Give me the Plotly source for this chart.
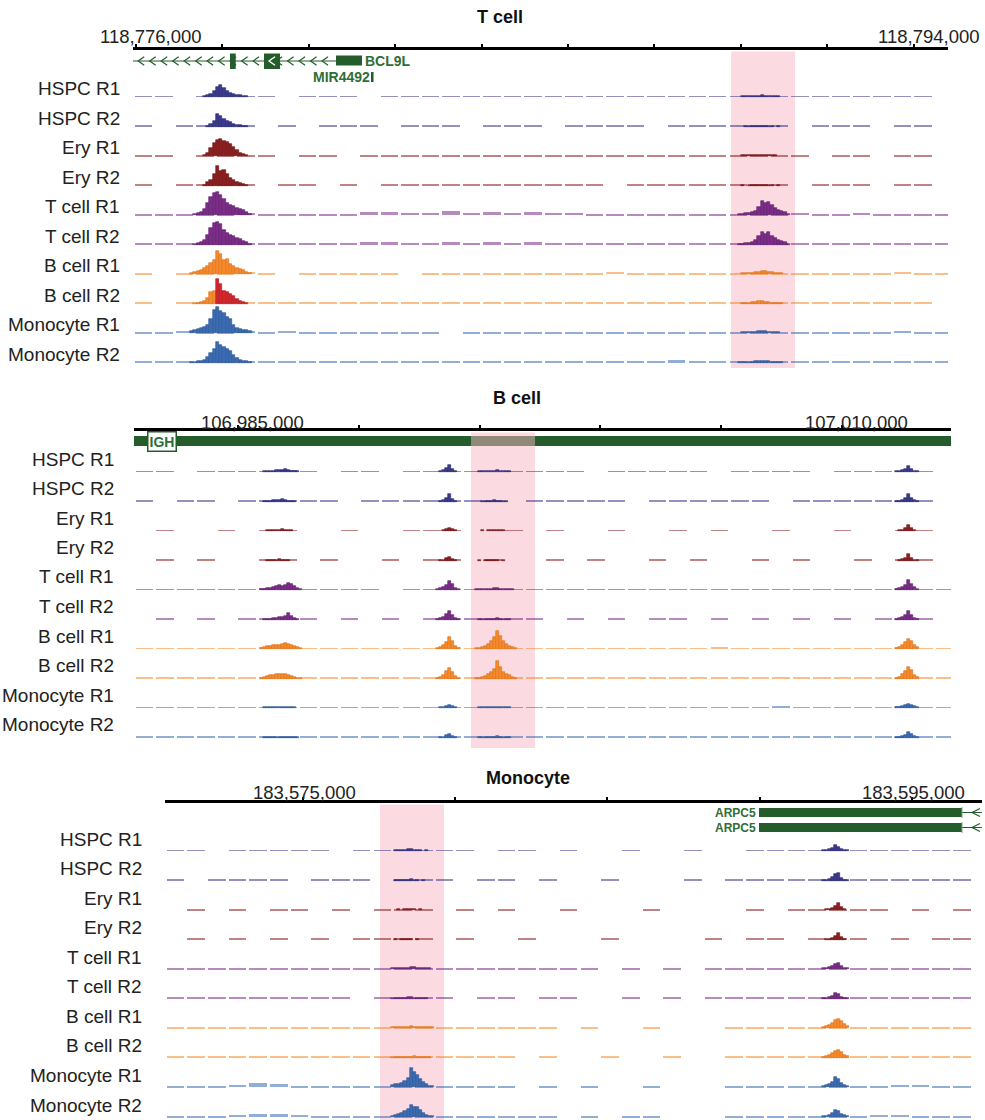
import plotly.graph_objects as go

FONT = "Liberation Sans, Arial, Helvetica, sans-serif"
FIG_W, FIG_H = 985, 1120

# ---------------------------------------------------------------- samples
SAMPLES = ["HSPC R1", "HSPC R2", "Ery R1", "Ery R2", "T cell R1", "T cell R2",
           "B cell R1", "B cell R2", "Monocyte R1", "Monocyte R2"]
FILL = ["#3b3a8c"] * 2 + ["#8c1f20"] * 2 + ["#7d2c8a"] * 2 + ["#f68a2d"] * 2 + ["#3b6db5"] * 2
EDGE = ["#27266e"] * 2 + ["#6a1315"] * 2 + ["#5b1b68"] * 2 + ["#dc7016"] * 2 + ["#285391"] * 2
ALT_FILL, ALT_EDGE = "#d5262d", "#ad1a20"
GENE_GREEN, GENE_TEXT = "#245d2b", "#2f6e36"
HIGHLIGHT = "rgb(249,181,196)"

# ======================================================= T cell locus (BCL9L)
TCELL_VIEW = (118775930, 118794798)
TCELL_TICKS = list(range(118776000, 118794001, 2000))
TCELL_LABELED = [118776000, 118794000]
TCELL_HIGHLIGHT = (118789775, 118791255)

# coverage in 475 bp bins across the view
TCELL_BG_START, TCELL_BG_BIN = 118775930, 475
TCELL_BG = [
    [1,1,0,1,1,1,1,0,1,1,1,0,1,1,1,1,1,1,1,1,1,1,1,1,1,1,1,1,1,1,1,1,1,1,1,1,1,1,1,0],
    [1,0,1,1,1,1,0,1,0,1,1,1,0,1,1,1,0,1,1,1,0,1,1,1,1,0,1,1,1,1,1,1,0,1,1,1,0,1,1,0],
    [1,1,0,1,1,1,1,0,1,1,0,1,1,1,1,1,1,1,1,1,1,1,1,1,1,1,1,1,1,1,1,1,1,0,1,1,0,1,1,0],
    [1,0,1,1,1,1,0,1,1,0,1,0,1,1,1,1,1,1,2,1,1,1,1,0,1,1,1,1,1,1,1,1,0,1,1,1,0,1,1,0],
    [1,1,1,1,1,2,1,1,1,1,1,3,3,2,2,4,2,3,2,3,2,2,1,1,1,1,1,1,1,1,1,1,2,1,1,2,1,1,1,1],
    [1,1,1,1,1,2,1,1,1,1,1,3,3,2,2,3,2,3,2,3,2,1,1,1,1,1,1,1,1,1,1,1,2,1,1,1,1,1,1,1],
    [1,0,1,1,1,2,1,0,1,1,1,1,1,0,1,1,1,1,1,1,1,1,1,2,1,1,1,1,1,1,1,1,1,1,1,1,1,2,1,1],
    [1,0,1,1,1,2,1,1,1,1,1,1,1,1,1,1,1,1,1,1,1,1,1,2,1,1,1,1,1,1,1,1,1,1,1,1,1,2,1,0],
    [1,1,2,1,1,2,1,2,1,1,1,1,1,1,1,0,1,1,1,1,1,1,1,1,1,1,1,1,1,1,1,1,1,1,1,1,1,2,1,1],
    [1,1,1,1,1,2,2,1,1,1,1,1,2,1,1,1,1,2,1,1,1,1,1,1,1,2,3,1,1,1,1,1,1,1,1,1,1,1,1,1],
]
# promoter peak, 75 bp bins
TCELL_PROM_START, TCELL_PROM_BIN = 118777250, 75
TCELL_PROM = [
    [0,0,0,0,1,2,3,6,10,12,9,6,4,3,2,2,1,1,0],
    [0,0,0,0,0,1,3,6,13,11,8,6,5,3,2,2,1,1,0],
    [0,0,0,0,1,3,8,13,16,17,15,14,12,9,6,3,2,1,0],
    [0,0,0,0,1,4,6,12,20,15,16,12,8,6,4,3,2,1,0],
    [0,1,2,3,6,12,18,22,23,20,16,12,10,9,7,6,5,3,1],
    [0,1,2,3,5,10,17,22,23,21,15,12,10,9,7,6,4,3,1],
    [1,2,3,4,6,8,11,14,23,20,14,15,10,8,6,5,4,2,1],
    [0,1,1,2,3,6,12,13,25,20,13,12,10,8,5,3,2,1,0],
    [2,3,4,5,6,8,14,23,26,22,20,16,14,8,5,4,3,3,2],
    [1,1,2,2,3,6,10,14,21,18,16,14,12,8,5,3,2,2,1],
]
TCELL_B_R2_ALT_FROM = 118777850
# T cell specific element, 75 bp bins
TCELL_ENH_START, TCELL_ENH_BIN = 118789860, 75
TCELL_ENH = [
    [0,0,1,1,1,1,1,1,2,1,1,1,1,1,0,0,0],
    [0,0,0,1,1,1,1,1,1,1,1,1,0,1,0,0,0],
    [0,0,1,1,1,1,1,1,1,1,1,1,1,0,0,0,0],
    [0,0,1,0,1,1,1,1,1,1,1,1,0,1,0,0,0],
    [0,1,1,2,2,3,4,8,14,12,13,10,7,5,4,3,1],
    [0,1,1,2,2,3,5,9,13,11,13,9,7,5,4,3,1],
    [0,0,1,1,1,1,2,2,3,3,2,2,1,1,1,0,0],
    [0,0,1,1,1,2,2,3,3,2,2,1,1,1,1,0,0],
    [0,0,1,1,1,1,1,2,2,2,1,1,1,1,0,0,0],
    [0,1,1,1,1,1,2,2,2,2,2,1,1,1,1,0,0],
]
BCL9L_INTRON = (118775000, 118780630)
BCL9L_EXONS = [(118778176, 118778308), (118778963, 118779334)]
BCL9L_END_BLOCK = (118780630, 118781232)
MIR4492 = (118781440, 118781498)

# ======================================================= B cell locus (IGH)
BCELL_VIEW = (106980695, 107014511)
BCELL_TICKS = list(range(106985000, 107010001, 5000))
BCELL_LABELED = [106985000, 107010000]
BCELL_HIGHLIGHT = (106994644, 106997293)

BCELL_BG_START, BCELL_BG_BIN = 106980695, 850
BCELL_BG = [
    [1,1,0,1,1,1,1,2,1,0,1,1,0,1,1,1,1,0,1,1,1,1,0,1,1,1,1,1,0,1,1,1,1,0,1,1,1,1,1,0],
    [1,0,1,1,0,1,1,2,1,1,0,1,1,1,1,1,1,1,0,1,1,1,1,1,0,1,1,1,1,1,1,0,1,1,1,1,1,1,1,0],
    [0,1,0,0,1,0,1,1,0,0,1,0,0,1,1,1,0,0,1,0,1,0,0,1,0,0,1,0,1,0,0,1,0,0,1,0,0,1,1,0],
    [0,1,0,1,0,0,1,1,0,1,0,0,1,0,1,1,0,1,0,0,1,0,1,0,0,1,0,1,0,0,1,0,1,0,0,1,0,1,1,0],
    [1,1,1,1,1,1,2,2,1,1,1,1,0,1,1,1,1,1,1,1,1,1,1,1,1,1,1,1,1,1,1,1,1,1,1,1,1,2,1,1],
    [0,1,0,1,0,1,1,2,1,0,1,0,1,0,1,1,1,1,1,1,0,1,0,1,0,1,1,0,1,0,1,0,1,0,1,0,1,1,1,0],
    [1,1,1,1,1,1,2,2,1,1,1,1,1,1,1,2,1,1,1,1,1,1,1,1,1,1,1,1,2,1,1,1,1,1,1,1,1,2,1,1],
    [1,1,1,1,1,1,2,2,1,1,1,1,1,1,1,2,1,1,1,1,1,1,1,1,1,1,1,1,1,1,1,1,1,1,1,1,1,2,1,1],
    [1,1,1,1,1,1,1,1,1,1,1,1,1,1,1,1,1,1,1,1,1,1,1,1,1,1,1,1,1,1,1,2,1,1,1,1,1,2,1,1],
    [1,1,1,1,1,1,1,1,1,1,1,1,1,1,1,1,1,1,1,1,1,1,1,1,1,1,1,1,1,1,1,1,1,1,1,1,1,2,1,1],
]
BCELL_PEAK1_START, BCELL_PEAK1_BIN = 106985900, 125
BCELL_PEAK1 = [
    [0,1,1,1,1,2,2,2,3,2,1,1,1,0],
    [0,1,1,1,2,2,2,3,2,1,1,1,0,0],
    [0,0,1,1,1,1,1,2,1,1,1,0,0,0],
    [0,0,1,1,1,1,2,1,1,1,0,0,0,0],
    [1,1,2,2,3,4,5,4,5,7,6,4,2,1],
    [0,1,1,1,2,2,3,3,4,7,4,2,1,0],
    [1,2,3,3,4,4,4,5,6,5,4,3,2,1],
    [1,2,3,4,4,5,5,5,5,4,3,2,1,1],
    [0,1,1,1,1,1,1,1,1,1,1,1,0,0],
    [0,1,1,1,1,1,1,1,1,1,1,1,1,0],
]
BCELL_PEAK2_START, BCELL_PEAK2_BIN = 106993200, 125
BCELL_PEAK2 = [
    [0,1,2,4,7,3,1,0],
    [0,1,2,4,8,3,1,0],
    [0,0,1,2,3,2,1,0],
    [0,1,1,3,4,2,1,0],
    [1,2,3,5,9,6,2,1],
    [1,2,3,6,9,5,2,1],
    [1,2,4,7,12,8,3,1],
    [1,2,4,8,11,7,3,1],
    [0,1,1,2,3,2,1,0],
    [0,1,1,3,4,2,1,0],
]
BCELL_PEAK3_START, BCELL_PEAK3_BIN = 106994800, 125
BCELL_PEAK3 = [
    [0,1,1,1,1,1,1,2,1,1,1,1,0,0],
    [0,0,1,1,1,1,2,1,1,1,1,0,0,0],
    [0,0,1,0,1,1,1,1,1,1,0,0,0,0],
    [0,1,0,1,1,1,1,1,0,1,0,0,0,0],
    [1,1,1,1,1,1,2,2,1,1,1,1,1,0],
    [0,1,1,1,1,1,1,2,1,1,1,1,0,0],
    [1,1,2,3,5,8,12,18,13,8,5,3,2,1],
    [1,1,2,3,5,7,10,18,12,7,5,4,2,1],
    [0,1,1,1,1,1,1,1,1,1,1,1,0,0],
    [0,1,1,1,1,1,1,2,1,1,1,1,0,0],
]
BCELL_PEAK4_START, BCELL_PEAK4_BIN = 107012200, 125
BCELL_PEAK4 = [
    [1,1,2,3,6,3,1,1],
    [1,1,2,4,8,4,2,1],
    [0,1,1,3,6,3,1,0],
    [0,1,2,3,7,3,1,1],
    [1,2,3,5,10,6,3,1],
    [1,2,3,5,9,5,2,1],
    [1,2,4,7,10,8,4,2],
    [1,2,5,8,12,9,4,2],
    [1,1,2,3,4,3,2,1],
    [1,1,2,3,6,4,2,1],
]
IGH_SPAN = (106975000, 107020000)
IGH_LABEL_AT = 106981834

# ======================================================= Monocyte locus (ARPC5)
MONO_VIEW = (183570467, 183597305)
MONO_TICKS = list(range(183575000, 183595001, 5000))
MONO_LABELED = [183575000, 183595000]
MONO_HIGHLIGHT = (183577529, 183579632)

MONO_BG_START, MONO_BG_BIN = 183570467, 680
MONO_BG = [
    [1,1,0,1,1,1,1,1,0,1,1,1,1,1,1,0,1,1,0,1,0,0,1,0,0,1,0,0,1,1,1,1,1,1,1,1,1,1,1,0],
    [1,0,1,1,1,1,0,1,1,1,0,1,1,1,0,1,1,0,1,0,0,1,0,0,0,1,0,1,1,1,1,1,1,1,1,1,1,1,1,0],
    [0,1,0,1,0,1,1,0,1,0,1,1,1,0,1,0,1,0,0,1,0,0,0,1,0,0,0,0,1,0,1,1,1,1,1,0,1,0,1,0],
    [0,1,0,1,0,1,0,1,0,1,1,1,1,0,1,0,0,1,0,0,0,1,0,0,0,0,1,0,1,1,0,1,1,1,0,1,0,1,1,0],
    [1,1,1,1,1,1,1,1,1,1,1,1,1,1,1,1,1,1,1,1,1,0,1,0,1,0,1,1,1,1,1,1,1,1,1,1,1,1,1,0],
    [1,1,1,1,1,1,1,1,1,0,1,1,1,1,0,1,1,0,1,1,0,0,1,0,1,0,1,1,1,1,1,1,1,1,1,1,1,1,1,0],
    [1,1,1,1,1,1,1,1,1,1,1,1,1,1,1,1,1,1,1,0,1,0,0,1,0,0,0,1,1,1,1,1,1,1,1,1,1,1,1,0],
    [1,1,1,1,1,1,1,1,1,1,1,1,1,1,1,1,1,0,1,0,0,1,0,0,1,0,0,1,1,1,1,1,1,1,1,1,1,1,1,0],
    [1,1,1,2,4,3,1,1,1,1,1,1,1,1,1,1,1,0,1,0,1,0,0,1,0,0,0,1,1,1,1,1,1,1,1,2,2,1,1,0],
    [1,1,1,2,3,3,2,1,1,1,1,1,1,1,1,1,1,1,1,0,1,0,1,1,0,0,0,1,1,1,1,1,1,1,2,2,1,1,1,0],
]
MONO_PEAK1_START, MONO_PEAK1_BIN = 183577900, 100
MONO_PEAK1 = [
    [0,1,1,1,1,2,2,1,1,1,0,1,0,0],
    [0,1,1,1,1,1,2,1,1,0,1,0,0,0],
    [0,0,1,0,1,1,1,1,0,1,0,0,0,0],
    [0,1,0,1,1,1,1,0,1,0,0,0,0,0],
    [1,1,1,1,1,1,2,2,1,1,1,1,1,0],
    [1,1,1,1,1,2,2,1,1,1,1,1,0,0],
    [1,1,1,1,1,1,2,1,1,1,1,1,1,1],
    [1,1,1,1,1,1,1,2,1,1,1,1,1,0],
    [2,3,3,4,6,9,19,15,12,8,5,3,1,1],
    [1,2,3,4,6,8,12,10,10,7,4,2,1,1],
]
MONO_PEAK2_START, MONO_PEAK2_BIN = 183592050, 100
MONO_PEAK2 = [
    [1,1,2,3,6,4,2,1,1],
    [1,1,2,4,7,8,3,1,1],
    [0,1,1,2,4,7,3,1,0],
    [0,1,1,2,4,7,3,1,0],
    [1,1,2,3,5,6,3,1,1],
    [1,1,2,3,6,5,2,1,1],
    [1,2,3,5,8,9,7,4,2],
    [1,2,3,5,7,8,6,3,2],
    [1,2,3,5,10,8,4,2,1],
    [1,1,2,4,7,6,3,2,1],
]
ARPC5_BLOCK = (183589980, 183596648)
ARPC5_TX_END = 183599000

# ---------------------------------------------------------------- page geometry (px)
PANELS = [
    dict(title="T cell", view=TCELL_VIEW, ticks=TCELL_TICKS, labeled=TCELL_LABELED,
         highlight=TCELL_HIGHLIGHT, x0=133, x1=948, axis=50, bottom=368,
         base0=97, step=29.55, lab_x=121.5, lab_dy=8.5, title_xy=(500, 17),
         coord_y=37, coord_shift=15,
         tracks=[(TCELL_BG_START, TCELL_BG_BIN, TCELL_BG, False),
                 (TCELL_PROM_START, TCELL_PROM_BIN, TCELL_PROM, True),
                 (TCELL_ENH_START, TCELL_ENH_BIN, TCELL_ENH, True)]),
    dict(title="B cell", view=BCELL_VIEW, ticks=BCELL_TICKS, labeled=BCELL_LABELED,
         highlight=BCELL_HIGHLIGHT, x0=134, x1=951, axis=431, bottom=748,
         base0=472, step=29.5, lab_x=115.5, lab_dy=13, title_xy=(517, 398),
         coord_y=422, coord_shift=14,
         tracks=[(BCELL_BG_START, BCELL_BG_BIN, BCELL_BG, False),
                 (BCELL_PEAK1_START, BCELL_PEAK1_BIN, BCELL_PEAK1, True),
                 (BCELL_PEAK2_START, BCELL_PEAK2_BIN, BCELL_PEAK2, True),
                 (BCELL_PEAK3_START, BCELL_PEAK3_BIN, BCELL_PEAK3, True),
                 (BCELL_PEAK4_START, BCELL_PEAK4_BIN, BCELL_PEAK4, True)]),
    dict(title="Monocyte", view=MONO_VIEW, ticks=MONO_TICKS, labeled=MONO_LABELED,
         highlight=MONO_HIGHLIGHT, x0=165, x1=982, axis=803, bottom=1120,
         base0=851, step=29.56, lab_x=143.5, lab_dy=12, title_xy=(528, 778),
         coord_y=792, coord_shift=2,
         tracks=[(MONO_BG_START, MONO_BG_BIN, MONO_BG, False),
                 (MONO_PEAK1_START, MONO_PEAK1_BIN, MONO_PEAK1, True),
                 (MONO_PEAK2_START, MONO_PEAK2_BIN, MONO_PEAK2, True)]),
]


def px(x):
    return x / FIG_W


def py(y):
    return 1 - y / FIG_H


fig = go.Figure()
shapes, annotations = [], []
layout_axes = {}

for k, p in enumerate(PANELS, start=1):
    xa, ya = f"x{k}", f"y{k}"
    depth = p["bottom"] - p["axis"]
    baselines = [p["base0"] - p["axis"] + i * p["step"] for i in range(len(SAMPLES))]

    layout_axes[f"xaxis{k}"] = dict(
        domain=[px(p["x0"]), px(p["x1"])], range=list(p["view"]), anchor=ya,
        side="top", showline=True, linewidth=3, linecolor="black",
        ticks="outside", ticklen=3, tickwidth=2, tickcolor="black",
        tickvals=p["ticks"], showticklabels=False, showgrid=False,
        zeroline=False, fixedrange=True)
    layout_axes[f"yaxis{k}"] = dict(
        domain=[py(p["bottom"]), py(p["axis"])], range=[depth, 0], anchor=xa,
        visible=False, fixedrange=True)

    # signal tracks: coarse coverage bins plus finely binned peaks
    for start, width, rows, fine in p["tracks"]:
        for r, vals in enumerate(rows):
            xs, ys, fills, edges = [], [], [], []
            for i, v in enumerate(vals):
                if v <= 0:
                    continue
                x = start + (i + 0.5) * width
                xs.append(x)
                ys.append(-v)
                alt = (k == 1 and fine and rows is TCELL_PROM and r == 7
                       and start + i * width >= TCELL_B_R2_ALT_FROM)
                fills.append(ALT_FILL if alt else FILL[r])
                edges.append(ALT_EDGE if alt else EDGE[r])
            fig.add_trace(go.Bar(
                x=xs, y=ys, base=baselines[r],
                width=width * (1.0 if fine else 0.85),
                marker=dict(color=fills,
                            line=dict(width=0.6 if fine else 0, color=edges)),
                opacity=1.0 if fine else 0.55,
                xaxis=xa, yaxis=ya, hoverinfo="skip", showlegend=False))

    # sample labels
    for i, name in enumerate(SAMPLES):
        annotations.append(dict(
            text=name, xref="paper", yref="paper", x=px(p["lab_x"]),
            y=py(p["axis"] + baselines[i] - p["lab_dy"]), xanchor="right",
            yanchor="middle", showarrow=False,
            font=dict(family=FONT, size=19, color="#222222")))

    # title and coordinate labels
    tx, ty = p["title_xy"]
    annotations.append(dict(
        text=f"<b>{p['title']}</b>", xref="paper", yref="paper", x=px(tx), y=py(ty),
        xanchor="center", yanchor="middle", showarrow=False,
        font=dict(family=FONT, size=18, color="#111111")))
    for v in p["labeled"]:
        annotations.append(dict(
            text=f"{v:,}", xref=xa, yref="paper", x=v, xshift=p["coord_shift"],
            y=py(p["coord_y"]), xanchor="center", yanchor="middle", showarrow=False,
            font=dict(family=FONT, size=18.5, color="#222222")))


def rect(xa, ya, x0, x1, y0, y1, color=GENE_GREEN):
    return dict(type="rect", xref=xa, yref=ya, x0=x0, x1=x1, y0=y0, y1=y1,
                fillcolor=color, line=dict(width=0), layer="below")


def hline(xa, ya, x0, x1, y, width=1.2, color=GENE_GREEN):
    return dict(type="line", xref=xa, yref=ya, x0=x0, x1=x1, y0=y, y1=y,
                line=dict(color=color, width=width), layer="below")


def chevron(xa, ya, tip, span, y, half, color=GENE_GREEN, width=1.2):
    return dict(type="path", xref=xa, yref=ya, layer="below",
                path=f"M {tip + span},{y - half} L {tip},{y} L {tip + span},{y + half}",
                line=dict(color=color, width=width))


# --- BCL9L / MIR4492 (panel 1)
g_y = 11
intron_start = max(BCL9L_INTRON[0], TCELL_VIEW[0])
shapes.append(hline("x1", "y1", intron_start, BCL9L_INTRON[1], g_y))
pos = TCELL_VIEW[0] + 120
while pos + 140 < BCL9L_INTRON[1]:
    shapes.append(chevron("x1", "y1", pos, 140, g_y, 4.3))
    pos += 266
for a, b in BCL9L_EXONS:
    shapes.append(rect("x1", "y1", a, b, 3.5, 19))
shapes.append(rect("x1", "y1", BCL9L_END_BLOCK[0], BCL9L_END_BLOCK[1], 5.5, 15.5))
mid = (BCL9L_EXONS[1][0] + BCL9L_EXONS[1][1]) / 2
shapes.append(chevron("x1", "y1", mid - 70, 140, g_y, 4.3, color="white", width=1.4))
shapes.append(rect("x1", "y1", MIR4492[0], MIR4492[1], 22, 32))
annotations.append(dict(text="<b>BCL9L</b>", xref="x1", yref="y1", x=BCL9L_END_BLOCK[1],
                        y=g_y, xanchor="left", xshift=1, yanchor="middle", showarrow=False,
                        font=dict(family=FONT, size=14, color=GENE_TEXT)))
annotations.append(dict(text="<b>MIR4492</b>", xref="x1", yref="y1", x=MIR4492[0],
                        y=27, xanchor="right", xshift=1, yanchor="middle", showarrow=False,
                        font=dict(family=FONT, size=14, color=GENE_TEXT)))

# --- IGH (panel 2)
shapes.append(rect("x2", "y2", IGH_SPAN[0], IGH_SPAN[1], 5, 15))
annotations.append(dict(text="<b>IGH</b>", xref="x2", yref="y2", x=IGH_LABEL_AT, y=10,
                        xanchor="center", yanchor="middle", showarrow=False,
                        bgcolor="white", bordercolor=GENE_GREEN, borderwidth=1.5, borderpad=1,
                        font=dict(family=FONT, size=14, color=GENE_TEXT)))

# --- ARPC5 (panel 3), two transcripts
for y_lo, y_hi in [(5, 14), (20, 29)]:
    yc = (y_lo + y_hi) / 2
    shapes.append(hline("x3", "y3", ARPC5_BLOCK[1], ARPC5_TX_END, yc))
    shapes.append(chevron("x3", "y3", ARPC5_BLOCK[1] + 330, 260, yc, 4))
    shapes.append(rect("x3", "y3", ARPC5_BLOCK[0], ARPC5_BLOCK[1], y_lo, y_hi))
    shapes.append(dict(type="line", xref="x3", yref="y3", x0=ARPC5_BLOCK[1], x1=ARPC5_BLOCK[1],
                       y0=y_lo - 1, y1=y_hi + 1, line=dict(color="#7fa982", width=1), layer="below"))
    annotations.append(dict(text="<b>ARPC5</b>", xref="x3", yref="y3", x=ARPC5_BLOCK[0],
                            y=yc, xanchor="right", xshift=-1, yanchor="middle", showarrow=False,
                            font=dict(family=FONT, size=12, color=GENE_TEXT)))

# --- highlighted regions
for k, p in enumerate(PANELS, start=1):
    h0, h1 = p["highlight"]
    shapes.append(dict(type="rect", xref=f"x{k}", yref=f"y{k}", x0=h0, x1=h1,
                       y0=1.5, y1=p["bottom"] - p["axis"], fillcolor=HIGHLIGHT,
                       opacity=0.5, line=dict(width=0), layer="below"))

fig.update_layout(
    width=FIG_W, height=FIG_H, margin=dict(l=0, r=0, t=0, b=0),
    paper_bgcolor="white", plot_bgcolor="rgba(0,0,0,0)",
    barmode="overlay", bargap=0, showlegend=False, hovermode=False,
    shapes=shapes, annotations=annotations, **layout_axes)

fig.write_html("out.html")
